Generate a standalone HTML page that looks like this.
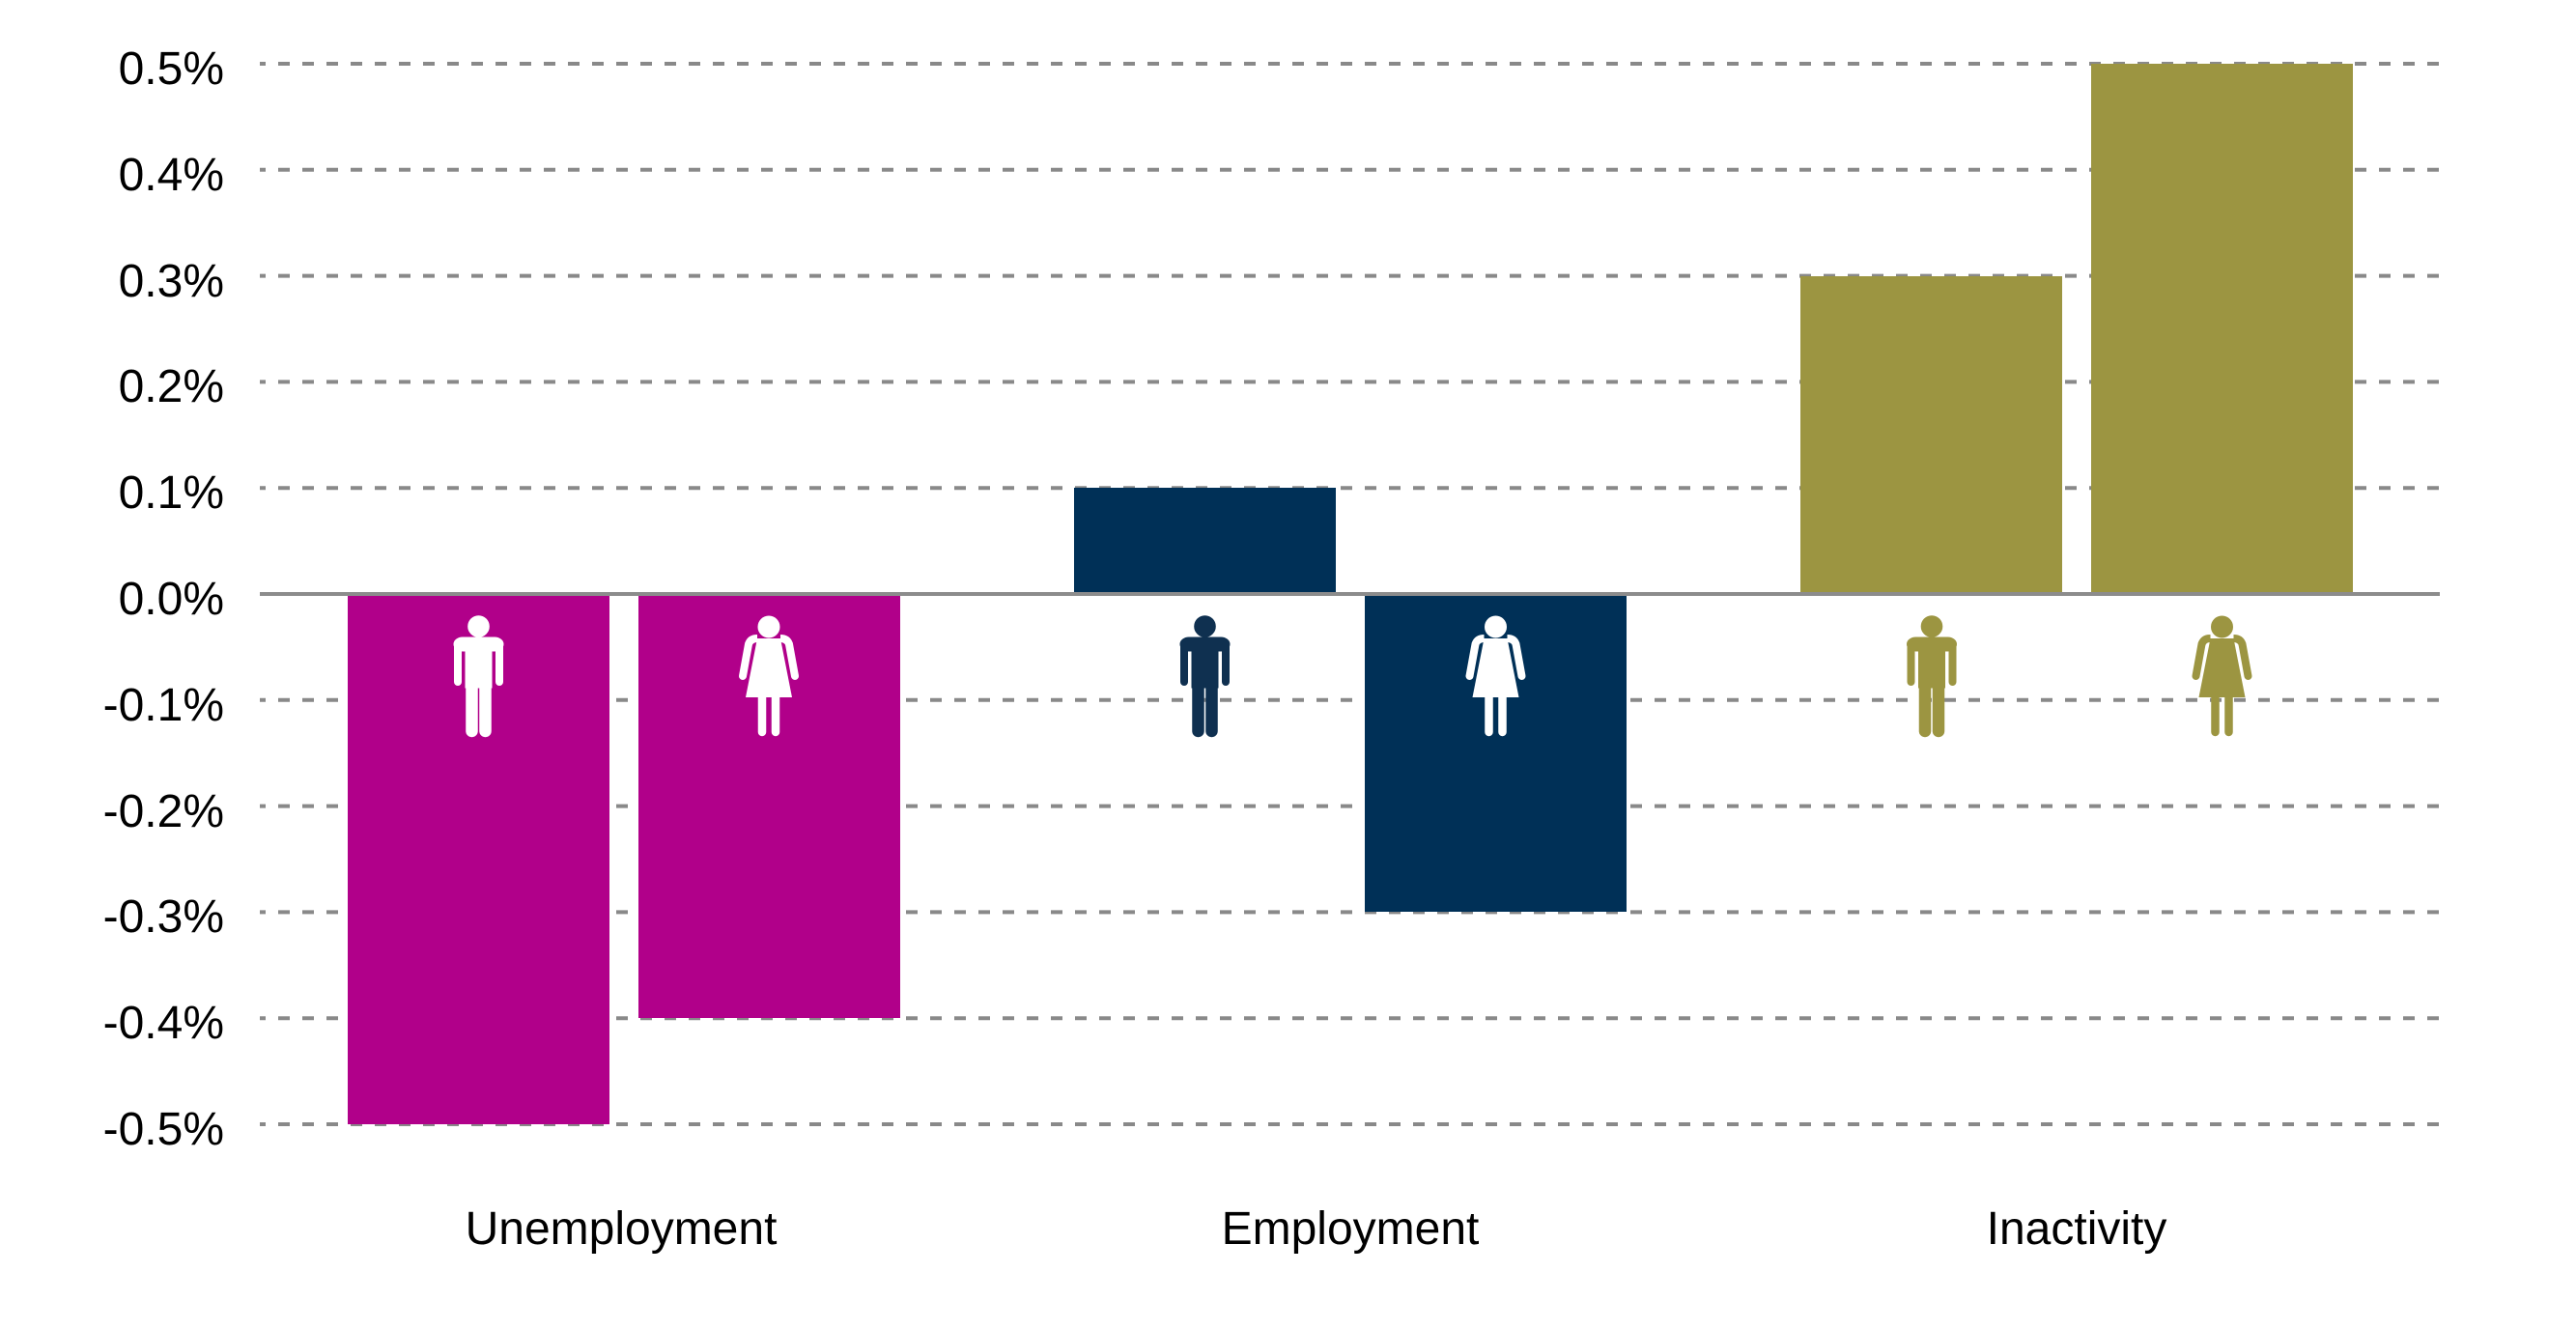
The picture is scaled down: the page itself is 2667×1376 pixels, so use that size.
<!DOCTYPE html>
<html><head><meta charset="utf-8"><style>
html,body{margin:0;padding:0;background:#fff;}
svg{display:block;}
text{font-family:"Liberation Sans",Arial,sans-serif;font-size:48px;fill:#000;}
</style></head><body>
<svg width="2667" height="1376" viewBox="0 0 2667 1376" xmlns="http://www.w3.org/2000/svg">
<defs>
<g id="man">
<circle cx="0" cy="648.5" r="10.8"/>
<rect x="-25.5" y="660" width="51" height="14" rx="9"/>
<rect x="-13.5" y="660" width="27" height="52"/>
<line x1="-21.5" y1="668" x2="-21.5" y2="706" stroke-width="8" stroke-linecap="round"/>
<line x1="21.5" y1="668" x2="21.5" y2="706" stroke-width="8" stroke-linecap="round"/>
<line x1="-7" y1="708" x2="-7" y2="757" stroke-width="12.5" stroke-linecap="round"/>
<line x1="7" y1="708" x2="7" y2="757" stroke-width="12.5" stroke-linecap="round"/>
</g>
<g id="woman">
<circle cx="0" cy="649" r="11"/>
<path d="M-12,661 H12 L24,722 H-24 Z" stroke="none"/>
<path d="M-12,661 Q-19,661 -21,667" fill="none" stroke-width="8"/>
<path d="M12,661 Q19,661 21,667" fill="none" stroke-width="8"/>
<line x1="-21" y1="667" x2="-27" y2="700" stroke-width="8" stroke-linecap="round"/>
<line x1="21" y1="667" x2="27" y2="700" stroke-width="8" stroke-linecap="round"/>
<line x1="-7" y1="720" x2="-7" y2="758" stroke-width="8.5" stroke-linecap="round"/>
<line x1="7" y1="720" x2="7" y2="758" stroke-width="8.5" stroke-linecap="round"/>
</g>
</defs>
<g stroke="#898989" stroke-width="4" stroke-dasharray="12 13" stroke-dashoffset="6">
<line x1="269" y1="66" x2="2526" y2="66"/>
<line x1="269" y1="175.8" x2="2526" y2="175.8"/>
<line x1="269" y1="285.6" x2="2526" y2="285.6"/>
<line x1="269" y1="395.4" x2="2526" y2="395.4"/>
<line x1="269" y1="505.2" x2="2526" y2="505.2"/>
<line x1="269" y1="724.8" x2="2526" y2="724.8"/>
<line x1="269" y1="834.6" x2="2526" y2="834.6"/>
<line x1="269" y1="944.4" x2="2526" y2="944.4"/>
<line x1="269" y1="1054.2" x2="2526" y2="1054.2"/>
<line x1="269" y1="1164" x2="2526" y2="1164"/>
</g>
<rect x="360" y="615" width="271" height="549" fill="#b1008a"/>
<rect x="661" y="615" width="271" height="439" fill="#b1008a"/>
<rect x="1112" y="505" width="271" height="110" fill="#003057"/>
<rect x="1413" y="615" width="271" height="329" fill="#003057"/>
<rect x="1864" y="286" width="271" height="329" fill="#9c9541"/>
<rect x="2165" y="66" width="271" height="549" fill="#9c9541"/>
<line x1="269" y1="615" x2="2526" y2="615" stroke="#8c8c8c" stroke-width="4"/>
<use href="#man" x="495.5" fill="#fff" stroke="#fff"/>
<use href="#woman" x="796" fill="#fff" stroke="#fff"/>
<use href="#man" x="1247.5" fill="#0f3050" stroke="#0f3050"/>
<use href="#woman" x="1548.5" fill="#fff" stroke="#fff"/>
<use href="#man" x="2000" fill="#9c9541" stroke="#9c9541"/>
<use href="#woman" x="2300.5" fill="#9c9541" stroke="#9c9541"/>
<g text-anchor="end">
<text x="232" y="87">0.5%</text>
<text x="232" y="197">0.4%</text>
<text x="232" y="307">0.3%</text>
<text x="232" y="416">0.2%</text>
<text x="232" y="526">0.1%</text>
<text x="232" y="636">0.0%</text>
<text x="232" y="746">-0.1%</text>
<text x="232" y="856">-0.2%</text>
<text x="232" y="965">-0.3%</text>
<text x="232" y="1075">-0.4%</text>
<text x="232" y="1185">-0.5%</text>
</g>
<g text-anchor="middle">
<text x="643" y="1288">Unemployment</text>
<text x="1398" y="1288">Employment</text>
<text x="2150" y="1288">Inactivity</text>
</g>
</svg>
</body></html>
